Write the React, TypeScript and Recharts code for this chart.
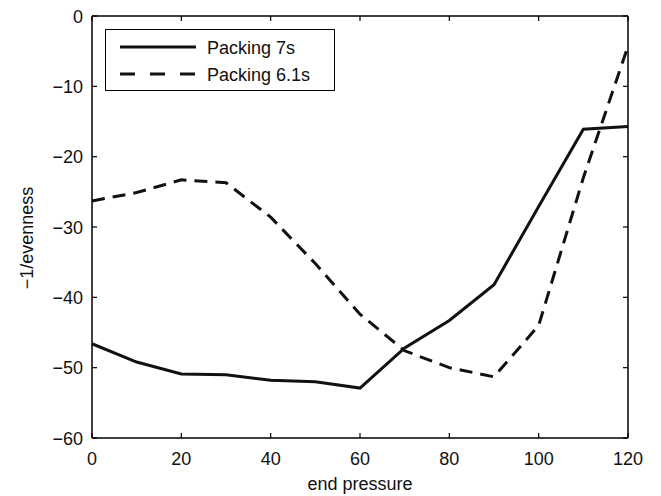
import { LineChart, Line, XAxis, YAxis } from "recharts";

const pressure = [0, 10, 20, 30, 40, 50, 60, 70, 80, 90, 100, 110, 120];
const packing7s = [-46.6, -49.2, -50.9, -51.0, -51.8, -52.0, -52.9, -47.2, -43.3, -38.2, -27.1, -16.1, -15.7];
const packing61s = [-26.3, -25.1, -23.3, -23.7, -28.6, -35.2, -42.4, -47.6, -50.0, -51.3, -44.0, -23.0, -4.3];
const xTicks = [0, 20, 40, 60, 80, 100, 120];
const yTicks = [-60, -50, -40, -30, -20, -10, 0];

const data = pressure.map((p, i) => ({ p, a: packing7s[i], b: packing61s[i] }));

const FONT = "'Liberation Sans', Arial, Helvetica, sans-serif";
const FS = 18;
const TICK = 5;
const fmt = (v: number) => (v < 0 ? "\u2212" + Math.abs(v) : String(v));

const BottomTick = ({ x, y, payload }: any) => (
  <g>
    <line x1={x} x2={x} y1={y} y2={y - TICK} stroke="#000" strokeWidth={1.2} />
    <text x={x} y={y + 27} textAnchor="middle" fontSize={FS} fontFamily={FONT} fill="#111">
      {fmt(payload.value)}
    </text>
  </g>
);

const TopTick = ({ x, y }: any) => (
  <line x1={x} x2={x} y1={y} y2={y + TICK} stroke="#000" strokeWidth={1.2} />
);

const LeftTick = ({ x, y, payload }: any) => (
  <g>
    <line x1={x} x2={x + TICK} y1={y} y2={y} stroke="#000" strokeWidth={1.2} />
    <text x={x - 9} y={y + 6.5} textAnchor="end" fontSize={FS} fontFamily={FONT} fill="#111">
      {fmt(payload.value)}
    </text>
  </g>
);

const RightTick = ({ x, y }: any) => (
  <line x1={x} x2={x - TICK} y1={y} y2={y} stroke="#000" strokeWidth={1.2} />
);

const XLabel = ({ viewBox }: any) => (
  <text x={viewBox.x + viewBox.width / 2} y={490} textAnchor="middle" fontSize={FS} fontFamily={FONT} fill="#111">
    end pressure
  </text>
);

const YLabel = () => (
  <text x={33} y={238} transform="rotate(-90 33 238)" textAnchor="middle" fontSize={FS} fontFamily={FONT} fill="#111">
    {"\u22121/evenness"}
  </text>
);

const LegendBox = () => (
  <div
    style={{
      position: "absolute",
      left: 105,
      top: 29,
      width: 230,
      height: 62,
      border: "1.5px solid #000",
      background: "#fff",
      boxSizing: "border-box",
    }}
  >
    <svg width={228} height={60} style={{ display: "block" }}>
      <line x1={14} x2={90} y1={17} y2={17} stroke="#111" strokeWidth={3} />
      <text x={101} y={23.5} fontSize={FS} fontFamily={FONT} fill="#111">Packing 7s</text>
      <line x1={14} x2={90} y1={44} y2={44} stroke="#111" strokeWidth={3} strokeDasharray="15 15" />
      <text x={101} y={50.5} fontSize={FS} fontFamily={FONT} fill="#111">Packing 6.1s</text>
    </svg>
  </div>
);

export default function App() {
  return (
    <div style={{ position: "absolute", left: 0, top: 0, width: 661, height: 496, background: "#fff" }}>
      <LineChart width={661} height={496} data={data} margin={{ top: 15, right: 32, bottom: 0, left: 0 }}>
        <XAxis
          xAxisId="bottom"
          dataKey="p"
          type="number"
          domain={[0, 120]}
          ticks={xTicks}
          height={58}
          tickSize={0}
          tickMargin={0}
          tickLine={false}
          axisLine={{ stroke: "#000", strokeWidth: 1.5 }}
          tick={<BottomTick />}
          label={<XLabel />}
        />
        <XAxis
          xAxisId="top"
          orientation="top"
          dataKey="p"
          type="number"
          domain={[0, 120]}
          ticks={xTicks}
          height={1}
          tickSize={0}
          tickMargin={0}
          tickLine={false}
          axisLine={{ stroke: "#000", strokeWidth: 1.5 }}
          tick={<TopTick />}
        />
        <YAxis
          yAxisId="left"
          type="number"
          domain={[-60, 0]}
          ticks={yTicks}
          width={92}
          tickSize={0}
          tickMargin={0}
          tickLine={false}
          axisLine={{ stroke: "#000", strokeWidth: 1.5 }}
          tick={<LeftTick />}
          label={<YLabel />}
        />
        <YAxis
          yAxisId="right"
          orientation="right"
          type="number"
          domain={[-60, 0]}
          ticks={yTicks}
          width={1}
          tickSize={0}
          tickMargin={0}
          tickLine={false}
          axisLine={{ stroke: "#000", strokeWidth: 1.5 }}
          tick={<RightTick />}
        />
        <Line
          xAxisId="bottom"
          yAxisId="left"
          type="linear"
          dataKey="a"
          name="Packing 7s"
          stroke="#111"
          strokeWidth={3}
          dot={false}
          isAnimationActive={false}
        />
        <Line
          xAxisId="top"
          yAxisId="right"
          type="linear"
          dataKey="b"
          name="Packing 6.1s"
          stroke="#111"
          strokeWidth={3}
          strokeDasharray="13 8"
          dot={false}
          isAnimationActive={false}
        />
      </LineChart>
      <LegendBox />
    </div>
  );
}
